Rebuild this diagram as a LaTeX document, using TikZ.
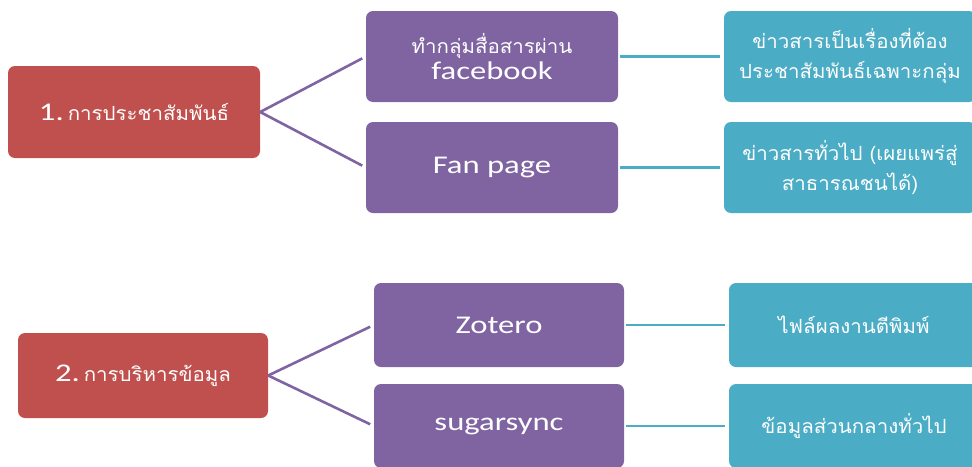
\documentclass[tikz,border=0pt]{standalone}
\usepackage{fontspec}
\setmainfont{Carlito}[FakeStretch=1.28]
\newfontfamily\thai[Script=Thai,FakeStretch=1.05]{Loma}
\definecolor{cred}{HTML}{C0504D}
\definecolor{cpurple}{HTML}{8064A2}
\definecolor{ccyan}{HTML}{4BACC6}
\begin{document}
\begin{tikzpicture}[x=1pt,y=-1pt,
  box/.style={rounded corners=7pt, text=white, align=center, inner sep=0pt, minimum width=252pt, minimum height=91pt},
  redbox/.style={box, fill=cred},
  purplebox/.style={box, fill=cpurple},
  cyanbox/.style={box, fill=ccyan},
  lat/.style={font=\fontsize{25.5}{28}\selectfont},
  thl/.style={font=\thai\fontsize{19.5}{30}\selectfont},
  plink/.style={draw=cpurple, line width=2.6pt},
  clink/.style={draw=ccyan, line width=2.6pt, shorten <=2pt, shorten >=4pt}]
\useasboundingbox (0,0) rectangle (972,466);
\clip (0,0) rectangle (972,466);
% top group
\node[redbox, minimum height=92pt] (r1) at (134,112) {{\fontsize{25.5}{28}\selectfont 1.}\hspace{4pt}{\thai\fontsize{19.5}{24}\selectfont การประชาสัมพันธ์}};
\node[purplebox] (p1a) at (492,56.5) {{\thai\fontsize{19.5}{20}\selectfont ทำกลุ่มสื่อสารผ่าน}\\[3pt]{\fontsize{25.5}{28}\selectfont facebook}};
\node[purplebox, lat] (p1b) at (492,167.5) {Fan page};
\node[cyanbox, thl] (c1a) at (850,56.5) {ข่าวสารเป็นเรื่องที่ต้อง\\ประชาสัมพันธ์เฉพาะกลุ่ม};
\node[cyanbox, thl] (c1b) at (850,167.5) {ข่าวสารทั่วไป (เผยแพร่สู่\\สาธารณชนได้)};
% bottom group
\node[redbox, minimum width=250pt, minimum height=85pt] (r2) at (143,375.5) {{\fontsize{25.5}{28}\selectfont 2.}\hspace{4pt}{\thai\fontsize{19.5}{24}\selectfont การบริหารข้อมูล}};
\node[purplebox, minimum width=250pt, minimum height=84pt, lat] (p2a) at (499,325) {Zotero};
\node[purplebox, minimum width=250pt, minimum height=84pt, lat] (p2b) at (499,426) {sugarsync};
\node[cyanbox, minimum width=250pt, minimum height=84pt, thl] (c2a) at (854,325) {ไฟล์ผลงานตีพิมพ์};
\node[cyanbox, minimum width=250pt, minimum height=84pt, thl] (c2b) at (854,426) {ข้อมูลส่วนกลางทั่วไป};
% connectors
\draw[plink, shorten >=4pt] (r1.east) -- (p1a.west);
\draw[plink, shorten >=4pt] (r1.east) -- (p1b.west);
\draw[plink, shorten >=4pt] (r2.east) -- (p2a.west);
\draw[plink, shorten >=4pt] (r2.east) -- (p2b.west);
\draw[clink] (p1a.east) -- (c1a.west);
\draw[clink] (p1b.east) -- (c1b.west);
\draw[clink] (p2a.east) -- (c2a.west);
\draw[clink] (p2b.east) -- (c2b.west);
\end{tikzpicture}
\end{document}
